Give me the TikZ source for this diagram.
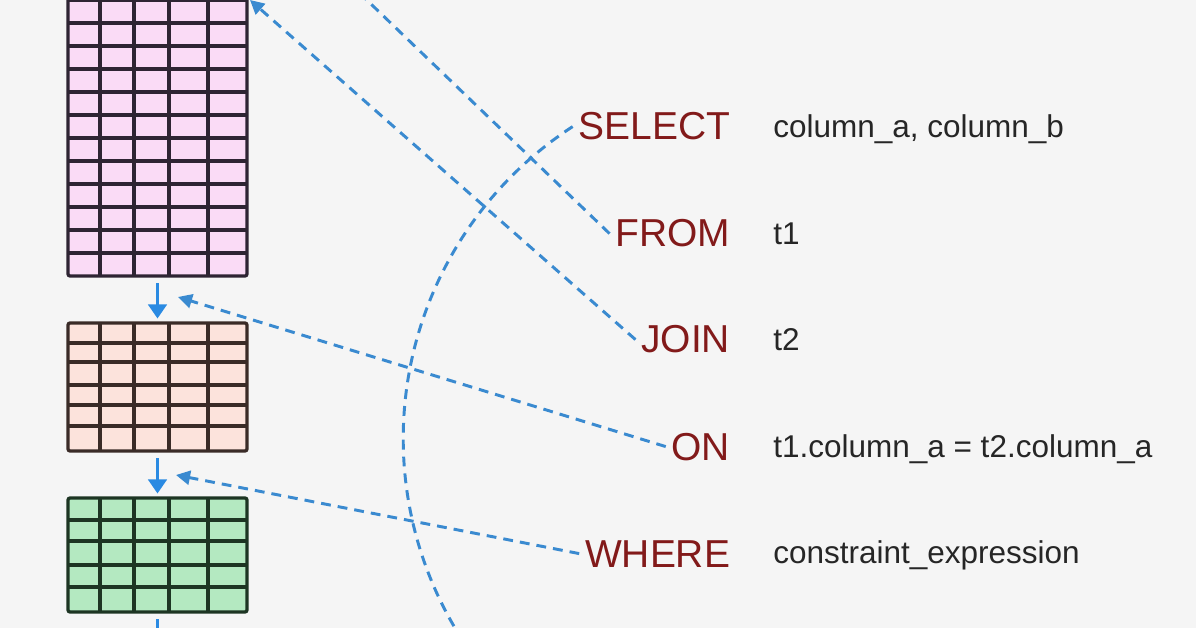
\documentclass[tikz,border=0pt]{standalone}
\usepackage{fontspec}
\setmainfont{Liberation Sans}
\usepackage{tikz}
\usetikzlibrary{arrows.meta}

\definecolor{bgcol}{HTML}{F5F5F5}
\definecolor{kwred}{HTML}{821A1A}
\definecolor{linkblue}{HTML}{3A8AD0}
\definecolor{flowblue}{HTML}{2A8AE2}
\definecolor{pinkfill}{HTML}{FADBF6}
\definecolor{pinkline}{HTML}{2E2433}
\definecolor{salmonfill}{HTML}{FCE3DC}
\definecolor{salmonline}{HTML}{3A2B27}
\definecolor{greenfill}{HTML}{B4E9C1}
\definecolor{greenline}{HTML}{1D3523}

\begin{document}
\begin{tikzpicture}[x=0.025cm, y=-0.025cm,
	kw/.style={text=kwred, inner sep=4pt, font=\fontsize{27.7}{32}\selectfont},
	val/.style={text=black!85, inner sep=0pt, font=\fontsize{22.4}{27}\selectfont},
	tbl/.style={line width=2.3pt, rounded corners=1.5pt, inner sep=0pt, minimum width=4.475cm},
	gridline/.style={line width=2.3pt},
	flow/.style={draw=flowblue, line width=2.4pt, shorten <=4pt, shorten >=2pt, -{Triangle[length=10pt,width=13pt]}},
	link/.style={draw=linkblue, line width=2.1pt, dash pattern=on 7pt off 5pt},
	linktip/.style={-{Triangle[length=10pt,width=10pt]}}]
	
	\useasboundingbox (0,0) rectangle (1196,628);
	\fill[bgcol] (0,0) rectangle (1196,628);
	\clip (0,0) rectangle (1196,628);
	
	% tables
	\node[tbl, draw=pinkline, fill=pinkfill, minimum height=7.475cm] (pink) at (157.5,126.5) {};
	\foreach \x in {100,134,169,208} \draw[gridline, pinkline] (\x,-23) -- (\x,276);
	\foreach \y in {0,23,...,253} \draw[gridline, pinkline] (68,\y) -- (247,\y);
	
	\node[tbl, draw=salmonline, fill=salmonfill, minimum height=3.2cm] (salmon) at (157.5,387) {};
	\foreach \x in {100,134,169,208} \draw[gridline, salmonline] (\x,323) -- (\x,451);
	\foreach \y in {343,362,385,405,426} \draw[gridline, salmonline] (68,\y) -- (247,\y);
	
	\node[tbl, draw=greenline, fill=greenfill, minimum height=2.85cm] (green) at (157.5,555) {};
	\foreach \x in {100,134,169,208} \draw[gridline, greenline] (\x,498) -- (\x,612);
	\foreach \y in {520,541,565,587} \draw[gridline, greenline] (68,\y) -- (247,\y);
	
	% clauses
	\node[kw, anchor=base east] (select) at (736,140) {SELECT};
	\node[kw, anchor=base east] (from)   at (736,247) {FROM};
	\node[kw, anchor=base east] (join)   at (736,353) {JOIN};
	\node[kw, anchor=base east] (on)     at (736,460) {ON};
	\node[kw, anchor=base east] (where)  at (736,567) {WHERE};
	
	\node[val, anchor=base west] (selectv) at (773,138) {column\_a, column\_b};
	\node[val, anchor=base west] (fromv)   at (773,245) {t1};
	\node[val, anchor=base west] (joinv)   at (773,351) {t2};
	\node[val, anchor=base west] (onv)     at (773,458) {t1.column\_a = t2.column\_a};
	\node[val, anchor=base west] (wherev)  at (773,563) {constraint\_expression};
	
	\coordinate (fromend)  at (346,-20);
	\coordinate (jointip)  at (250,0);
	\coordinate (ontip)    at (178,297);
	\coordinate (wheretip) at (176,475);
	\coordinate (outflow)  at (157.5,660);
	
	\draw[flow] (pink) -- (salmon);
	\draw[flow] (salmon) -- (green);
	\draw[flow] (green) -- (outflow);
	
	\draw[link] (select.west) arc[start angle=123, end angle=215, radius=9.3cm];
	\draw[link] (from.west) -- (fromend);
	\draw[link, linktip] (join.west) -- (jointip);
	\draw[link, linktip] (on.west) -- (ontip);
	\draw[link, linktip] (where.west) -- (wheretip);
	
\end{tikzpicture}
\end{document}
